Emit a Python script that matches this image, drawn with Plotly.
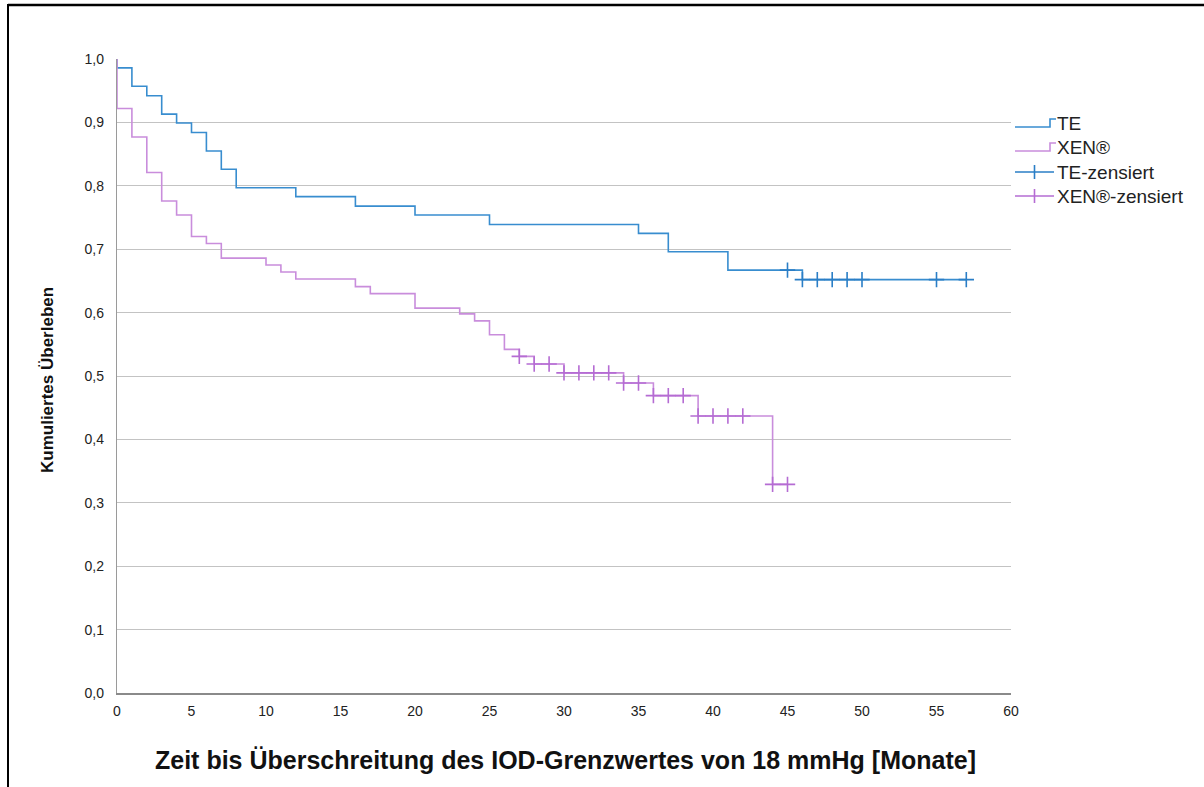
import plotly.graph_objects as go

# Kaplan-Meier step data (months, cumulative survival)
te_time = [0, 0, 1, 2, 3, 4, 5, 6, 7, 8, 12, 16, 20, 25, 35, 37, 41, 46, 57]
te_surv = [1.0, 0.986, 0.957, 0.942, 0.913, 0.899, 0.884, 0.855, 0.826, 0.797,
           0.783, 0.768, 0.754, 0.739, 0.725, 0.696, 0.667, 0.652, 0.652]

xen_time = [0, 0, 1, 2, 3, 4, 5, 6, 7, 10, 11, 12, 16, 17, 20, 23, 24, 25, 26,
            27, 28, 30, 34, 36, 39, 44, 45]
xen_surv = [1.0, 0.922, 0.877, 0.821, 0.776, 0.754, 0.720, 0.709, 0.686, 0.675,
            0.664, 0.653, 0.641, 0.630, 0.607, 0.598, 0.587, 0.565, 0.542,
            0.531, 0.519, 0.505, 0.489, 0.469, 0.437, 0.329, 0.329]

# censored observations
te_cens_time = [45, 46, 47, 48, 49, 50, 55, 57]
te_cens_surv = [0.667, 0.652, 0.652, 0.652, 0.652, 0.652, 0.652, 0.652]

xen_cens_time = [27, 28, 29, 30, 31, 32, 33, 34, 35, 36, 37, 38, 39, 40, 41, 42, 44, 45]
xen_cens_surv = [0.531, 0.519, 0.519, 0.505, 0.505, 0.505, 0.505, 0.489, 0.489,
                 0.469, 0.469, 0.469, 0.437, 0.437, 0.437, 0.437, 0.329, 0.329]

legend_names = ["TE", "XEN®", "TE-zensiert", "XEN®-zensiert"]

x_ticks = list(range(0, 61, 5))
y_ticks = [0.0, 0.1, 0.2, 0.3, 0.4, 0.5, 0.6, 0.7, 0.8, 0.9, 1.0]

TE_COLOR = "#388dcf"
TE_MARK = "#2a7ec6"
XEN_COLOR = "#c98ddc"
XEN_MARK = "#b56cd3"
FONT = "Liberation Sans, Arial, sans-serif"

W, H = 1204, 787
L, R, T, B = 117, 193, 59, 94
PW, PH = W - L - R, H - T - B


def px(xp):
    return (xp - L) / PW


def py(yp):
    return (H - B - yp) / PH


fig = go.Figure()

fig.add_trace(go.Scatter(x=te_time, y=te_surv, mode="lines", line_shape="hv",
                         line=dict(color=TE_COLOR, width=1.6), showlegend=False,
                         name=legend_names[0]))
fig.add_trace(go.Scatter(x=xen_time, y=xen_surv, mode="lines", line_shape="hv",
                         line=dict(color=XEN_COLOR, width=1.6), showlegend=False,
                         name=legend_names[1]))
fig.add_trace(go.Scatter(x=te_cens_time, y=te_cens_surv, mode="markers",
                         marker=dict(symbol="cross-thin", size=11,
                                     line=dict(color=TE_MARK, width=1.6)),
                         showlegend=False, name=legend_names[2]))
fig.add_trace(go.Scatter(x=xen_cens_time, y=xen_cens_surv, mode="markers",
                         marker=dict(symbol="cross-thin", size=11,
                                     line=dict(color=XEN_MARK, width=1.6)),
                         showlegend=False, name=legend_names[3]))

shapes = []
annotations = []

# hand-drawn legend at the right of the plot
leg_x0, leg_x1, text_x = 1015, 1050, 1055
leg_rows = [123, 147, 172, 196]
for i, (name, yc) in enumerate(zip(legend_names, leg_rows)):
    col = [TE_COLOR, XEN_COLOR, TE_MARK, XEN_MARK][i]
    if i < 2:
        # small step glyph
        path = (f"M {px(leg_x0)},{py(yc + 4)} L {px(leg_x1)},{py(yc + 4)} "
                f"L {px(leg_x1)},{py(yc - 4)} L {px(leg_x1 + 6)},{py(yc - 4)}")
        shapes.append(dict(type="path", path=path, xref="paper", yref="paper",
                           line=dict(color=col, width=1.6)))
    else:
        mid = (leg_x0 + leg_x1) / 2 + 2
        shapes.append(dict(type="line", xref="paper", yref="paper",
                           x0=px(leg_x0), x1=px(leg_x1 + 4), y0=py(yc), y1=py(yc),
                           line=dict(color=col, width=1.6)))
        shapes.append(dict(type="line", xref="paper", yref="paper",
                           x0=px(mid), x1=px(mid), y0=py(yc - 7), y1=py(yc + 7),
                           line=dict(color=col, width=1.6)))
    annotations.append(dict(text=name, xref="paper", yref="paper",
                            x=px(text_x), y=py(yc), xanchor="left", yanchor="middle",
                            showarrow=False,
                            font=dict(family=FONT, size=19, color="#222222")))

# axis titles
annotations.append(dict(text="<b>Kumuliertes Überleben</b>", xref="paper", yref="paper",
                        x=px(47), y=py(380), textangle=-90, showarrow=False,
                        xanchor="center", yanchor="middle",
                        font=dict(family=FONT, size=17, color="#111111")))
annotations.append(dict(text="<b>Zeit bis Überschreitung des IOD-Grenzwertes von 18 mmHg [Monate]</b>",
                        xref="paper", yref="paper", x=px(565), y=py(760), showarrow=False,
                        xanchor="center", yanchor="middle",
                        font=dict(family=FONT, size=25, color="#111111")))

# outer frame lines (top and left)
shapes.append(dict(type="line", xref="paper", yref="paper", x0=px(8), x1=px(W + 5),
                   y0=py(5), y1=py(5), line=dict(color="#000000", width=2.5)))
shapes.append(dict(type="line", xref="paper", yref="paper", x0=px(8), x1=px(8),
                   y0=py(4), y1=py(H + 5), line=dict(color="#000000", width=2)))

fig.update_layout(
    width=W, height=H,
    margin=dict(l=L, r=R, t=T, b=B, pad=0),
    paper_bgcolor="white", plot_bgcolor="white",
    separators=",.",
    shapes=shapes, annotations=annotations,
    showlegend=False,
    font=dict(family=FONT, size=14, color="#222222"),
)
fig.update_xaxes(range=[0, 60], tickvals=x_ticks, showgrid=False, zeroline=False,
                 showline=True, linecolor="#8a8a8a", linewidth=1.6,
                 ticks="", ticklabelstandoff=4,
                 tickfont=dict(family=FONT, size=14, color="#222222"))
fig.update_yaxes(range=[0, 1.0], tickvals=y_ticks, tickformat=".1f",
                 showgrid=True, gridcolor="#c3c3c3", gridwidth=1.4, zeroline=False,
                 showline=True, linecolor="#9a9a9a", linewidth=1.4,
                 ticks="", ticklabelstandoff=9,
                 tickfont=dict(family=FONT, size=14, color="#222222"))

fig.write_html("out.html")
